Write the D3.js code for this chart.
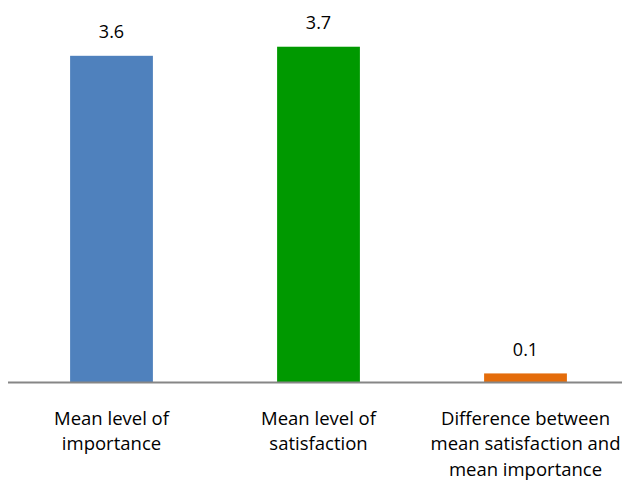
<!DOCTYPE html>
<html>
  <head>
    <title>Mean importance vs satisfaction</title>
    <script src="https://d3js.org/d3.v7.min.js"></script>
    <style>
      body { margin: 0; background: #fff; }
      text { font-family: "Open Sans", sans-serif; fill: #000; }
    </style>
  </head>
  <body>
    <div id="chart"></div>
    <script>
      // data
      var categories = ["importance", "satisfaction", "difference"];
      var categoryLines = [
        ["Mean level of", "importance"],
        ["Mean level of", "satisfaction"],
        ["Difference between", "mean satisfaction and", "mean importance"]
      ];
      var values = [3.6, 3.7, 0.1];
      var barColors = ["#4F81BD", "#009900", "#E46C0A"];

      var W = 622, H = 480;
      var baseY = 382.5;

      var svg = d3.select("#chart")
        .append("svg")
        .attr("width", W)
        .attr("height", H);

      var xScale = d3.scaleBand()
        .domain(categories)
        .range([8, 629])
        .paddingInner(0.6)
        .paddingOuter(0.3);

      var yScale = d3.scaleLinear()
        .domain([0, 4])
        .range([baseY, baseY - 363]);

      svg.selectAll("rect.bar")
        .data(values)
        .enter()
        .append("rect")
        .attr("class", "bar")
        .attr("x", function(d, i) { return xScale(categories[i]); })
        .attr("y", function(d) { return yScale(d); })
        .attr("width", xScale.bandwidth())
        .attr("height", function(d) { return baseY - yScale(d); })
        .attr("fill", function(d, i) { return barColors[i]; });

      // baseline
      svg.append("line")
        .attr("x1", 8)
        .attr("x2", W)
        .attr("y1", baseY)
        .attr("y2", baseY)
        .attr("stroke", "#868686")
        .attr("stroke-width", 2);

      // value labels
      svg.selectAll("text.value")
        .data(values)
        .enter()
        .append("text")
        .attr("class", "value")
        .text(function(d) { return d.toFixed(1); })
        .attr("x", function(d, i) { return xScale(categories[i]) + xScale.bandwidth() / 2; })
        .attr("y", function(d) { return yScale(d) - 17.5; })
        .attr("text-anchor", "middle")
        .attr("font-size", "18px");

      // category labels, wrapped
      var cat = svg.selectAll("text.cat")
        .data(categoryLines)
        .enter()
        .append("text")
        .attr("class", "cat")
        .attr("text-anchor", "middle")
        .attr("font-size", "18.5px");

      cat.each(function(lines, i) {
        var cx = xScale(categories[i]) + xScale.bandwidth() / 2;
        d3.select(this).selectAll("tspan")
          .data(lines)
          .enter()
          .append("tspan")
          .attr("x", cx)
          .attr("y", function(d, j) { return 424.5 + j * 25.5; })
          .text(function(d) { return d; });
      });
    </script>
  </body>
</html>
